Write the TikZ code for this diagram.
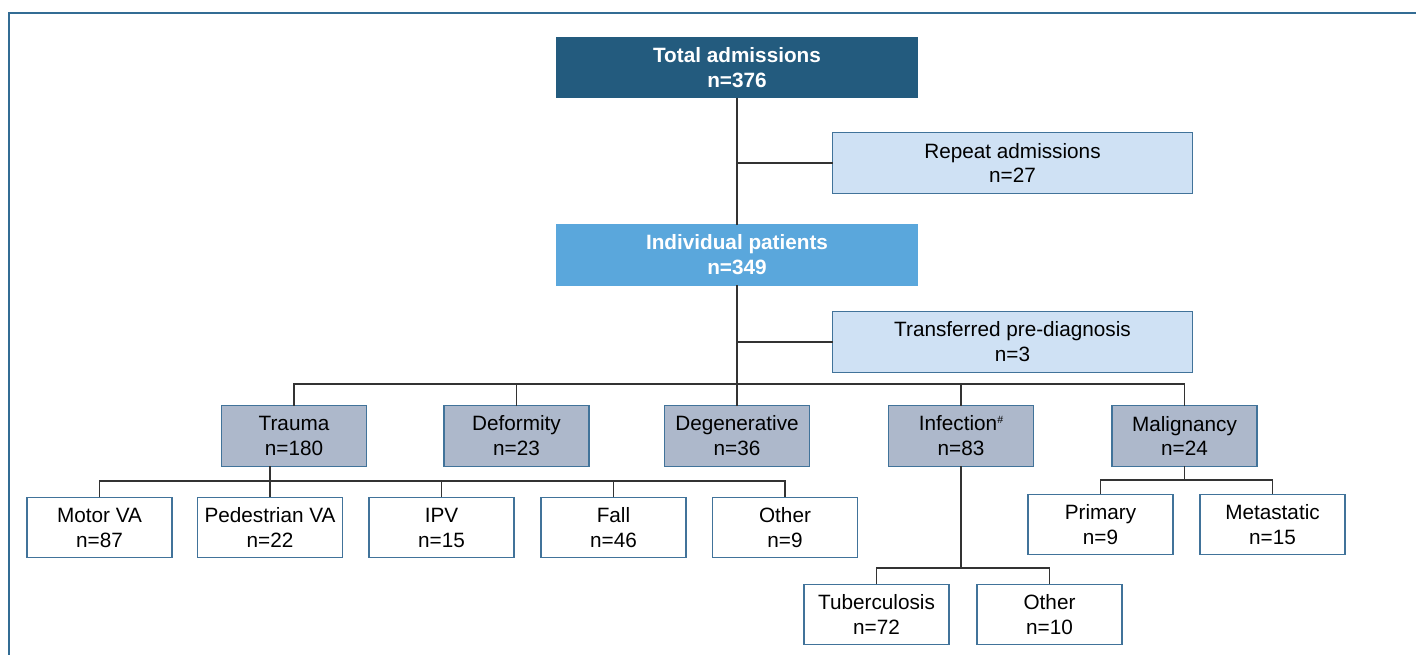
\documentclass[tikz,border=0pt]{standalone}
\usepackage{fontspec}
\setmainfont{Liberation Sans}
\usepackage{tikz}
\usetikzlibrary{calc}
\definecolor{TopBlue}{HTML}{235B7E}
\definecolor{MidBlue}{HTML}{5AA7DC}
\definecolor{PaleBlue}{HTML}{CFE1F4}
\definecolor{GreyBlue}{HTML}{ADB8CB}
\definecolor{EdgeBlue}{HTML}{41739A}
\definecolor{FrameBlue}{HTML}{336C94}
\tikzstyle{Line}=[draw=black!80, line width=0.8pt]

\begin{document}
\begin{tikzpicture}[
  x=0.02cm, y=-0.02cm,
  every node/.style={font=\fontsize{11.8}{14.2}\selectfont, align=center, inner sep=0, outer sep=0},
  Box/.style={draw=EdgeBlue, line width=0.8pt, minimum width=2.9cm, minimum height=1.21cm},
  WideBox/.style={Box, minimum width=7.2cm},
  TopBox/.style={WideBox, fill=TopBlue, draw=TopBlue, text=white, font=\fontsize{11.8}{14.2}\selectfont\bfseries},
  MidBox/.style={WideBox, fill=MidBlue, draw=MidBlue, text=white, font=\fontsize{11.8}{14.2}\selectfont\bfseries},
  SideBox/.style={WideBox, fill=PaleBlue},
  CatBox/.style={Box, fill=GreyBlue},
  LeafBox/.style={Box, fill=white}
]
\useasboundingbox (0,0) rectangle (1416,655);
\draw[FrameBlue, line width=1.1pt] (1416,13) -- (9,13) -- (9,655);

\node[TopBox] (total) at (737,67.5) {Total admissions\\n=376};
\node[SideBox] (repeat) at (1012.5,163) {Repeat admissions\\n=27};
\node[MidBox] (indiv) at (737,255) {Individual patients\\n=349};
\node[SideBox] (transf) at (1012.5,342) {Transferred pre-diagnosis\\n=3};

\node[CatBox] (trauma) at (294,436) {Trauma\\n=180};
\node[CatBox] (deform) at (516.5,436) {Deformity\\n=23};
\node[CatBox] (degen) at (737,436) {Degenerative\\n=36};
\node[CatBox] (infect) at (961,436) {Infection\raisebox{0.7ex}{\fontsize{6}{6}\selectfont\#}\\n=83};
\node[CatBox] (malig) at (1184.5,436) {Malignancy\\n=24};

\node[LeafBox] (motor) at (99.5,527.5) {Motor VA\\n=87};
\node[LeafBox] (pedest) at (270,527.5) {Pedestrian VA\\n=22};
\node[LeafBox] (ipv) at (441.5,527.5) {IPV\\n=15};
\node[LeafBox] (fall) at (613.5,527.5) {Fall\\n=46};
\node[LeafBox] (othertr) at (785,527.5) {Other\\n=9};

\node[LeafBox] (primary) at (1100.5,524.5) {Primary\\n=9};
\node[LeafBox] (metast) at (1272.5,524.5) {Metastatic\\n=15};

\node[LeafBox] (tb) at (876.5,614.5) {Tuberculosis\\n=72};
\node[LeafBox] (otherinf) at (1049.5,614.5) {Other\\n=10};

\coordinate (mainbus) at (0,384);
\coordinate (trbus) at (0,481);
\coordinate (malbus) at (0,480);
\coordinate (infbus) at (0,568);

\draw[Line] (total) -- (indiv);
\draw[Line] (total.south |- repeat.west) -- (repeat.west);
\draw[Line] (indiv) -- (degen);
\draw[Line] (indiv.south |- transf.west) -- (transf.west);

\draw[Line] (trauma.north) |- (malig.north |- mainbus) -- (malig.north);
\draw[Line] (deform.north) -- (deform.north |- mainbus);
\draw[Line] (infect.north) -- (infect.north |- mainbus);

\draw[Line] (trauma.south -| pedest.north) -- (pedest.north);
\draw[Line] (motor.north) |- (othertr.north |- trbus) -- (othertr.north);
\draw[Line] (ipv.north) -- (ipv.north |- trbus);
\draw[Line] (fall.north) -- (fall.north |- trbus);

\draw[Line] (infect.south) -- (infect.south |- infbus);
\draw[Line] (tb.north) |- (otherinf.north |- infbus) -- (otherinf.north);

\draw[Line] (malig.south) -- (malig.south |- malbus);
\draw[Line] (primary.north) |- (metast.north |- malbus) -- (metast.north);

\end{tikzpicture}
\end{document}
